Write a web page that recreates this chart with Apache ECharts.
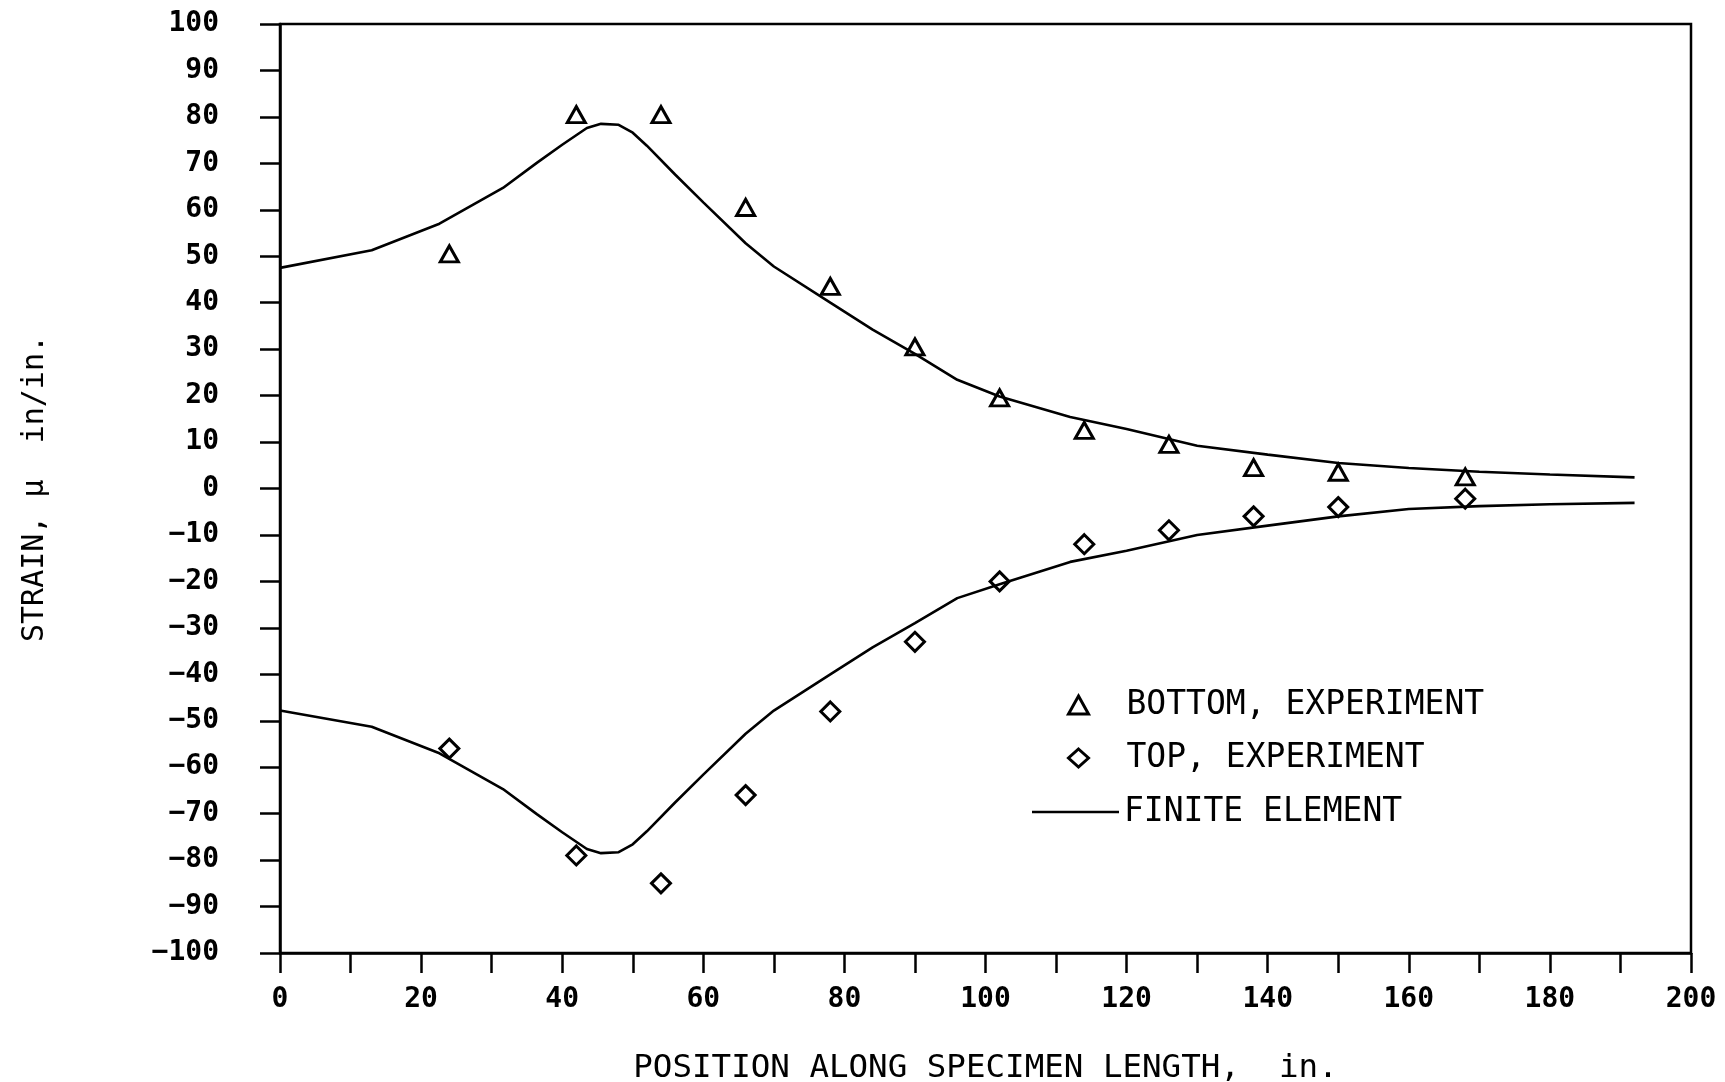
<!DOCTYPE html>
<html>
<head>
<meta charset="utf-8">
<script src="https://cdn.jsdelivr.net/npm/echarts@6/dist/echarts.min.js"></script>
<style>
html,body{margin:0;padding:0;background:#fff;}
#main{width:1725px;height:1082px;}
</style>
</head>
<body>
<div id="main"></div>
<script>
// Experimental gauge positions (in.)
var expPositions = [24, 42, 54, 66, 78, 90, 102, 114, 126, 138, 150, 168];
// Bottom gauges, experiment
var bottomExperiment = [50.5, 80.5, 80.5, 60.5, 43.5, 30.5, 19.5, 12.5, 9.5, 4.5, 3.5, 2.5];
// Top gauges, experiment
var topExperiment = [-56, -79, -85, -66, -48, -33, -20, -12, -9, -6, -4, -2.2];

// Finite element curve (bottom)
var feBottomX = [0, 13, 22.6, 31.6, 36.4, 40, 43.5, 45.5, 48, 50, 52, 56, 60, 66, 70, 78, 84, 90, 96, 102, 112, 120, 130, 140, 150, 160, 170, 180, 192];
var feBottomY = [47.5, 51.3, 57, 64.7, 70.1, 74, 77.6, 78.5, 78.3, 76.6, 73.8, 67.6, 61.6, 52.8, 47.8, 40, 34.2, 29, 23.4, 19.8, 15.4, 12.8, 9.2, 7.3, 5.5, 4.4, 3.6, 3.0, 2.4];
// Finite element curve (top)
var feTopX = [0, 13, 22.6, 31.6, 36.4, 40, 43.5, 45.5, 48, 50, 52, 56, 60, 66, 70, 78, 84, 90, 96, 102, 112, 120, 130, 140, 150, 160, 170, 180, 192];
var feTopY = [-47.8, -51.3, -57, -64.7, -70.1, -74, -77.6, -78.5, -78.3, -76.6, -73.8, -67.6, -61.6, -52.8, -47.8, -40, -34.2, -29, -23.6, -20.6, -15.8, -13.4, -10, -8, -6, -4.4, -3.8, -3.4, -3.1];

var xTicks = {min: 0, max: 200, interval: 20};
var yTicks = {min: -100, max: 100, interval: 10};

function zip(xs, ys){ return xs.map(function(x,i){ return [x, ys[i]]; }); }
function fmt(v){ return String(v).replace('-', '\u2212'); }

var FONT = '"DejaVu Sans Mono", monospace';
var chart = echarts.init(document.getElementById('main'), null, {renderer: 'canvas'});
var markerStyle = {color: '#ffffff', borderColor: '#000', borderWidth: 3, opacity: 1};

chart.setOption({
  backgroundColor: '#ffffff',
  animation: false,
  grid: {left: 280, right: 34, top: 24, bottom: 129, show: true, borderColor: '#000', borderWidth: 2.5, backgroundColor: 'transparent', containLabel: false, outerBoundsMode: 'none'},
  legend: [
    {
      orient: 'vertical',
      left: 1062,
      top: 682,
      itemWidth: 20,
      itemHeight: 18,
      itemGap: 17,
      selectedMode: false,
      symbolKeepAspect: true,
      itemStyle: {color: '#ffffff', borderColor: '#000', borderWidth: 3},
      textStyle: {fontFamily: FONT, fontSize: 33, color: '#000', lineHeight: 36, padding: [0, 0, 0, 33]},
      data: [
        {name: 'BOTTOM, EXPERIMENT', icon: 'triangle'},
        {name: 'TOP, EXPERIMENT', icon: 'diamond'}
      ]
    },
    {
      orient: 'vertical',
      left: 1027,
      top: 789,
      itemWidth: 87,
      itemHeight: 2.6,
      selectedMode: false,
      textStyle: {fontFamily: FONT, fontSize: 33, color: '#000', lineHeight: 36},
      data: [{name: 'FINITE ELEMENT', icon: 'rect', itemStyle: {color: '#000', borderWidth: 0}}]
    }
  ],
  xAxis: {
    type: 'value',
    min: xTicks.min, max: xTicks.max, interval: xTicks.interval,
    name: 'POSITION ALONG SPECIMEN LENGTH,  in.',
    nameLocation: 'middle',
    nameGap: 99,
    nameTextStyle: {fontFamily: FONT, fontSize: 32.5, color: '#000'},
    axisLine: {show: true, onZero: false, lineStyle: {color: '#000', width: 2.5}},
    axisTick: {show: true, inside: false, length: 20, lineStyle: {color: '#000', width: 2.5}},
    minorTick: {show: true, splitNumber: 2, length: 20, lineStyle: {color: '#000', width: 2.5}},
    axisLabel: {fontFamily: FONT, fontSize: 28, fontWeight: 'bold', color: '#000', margin: 33, formatter: fmt},
    splitLine: {show: false}
  },
  yAxis: {
    type: 'value',
    min: yTicks.min, max: yTicks.max, interval: yTicks.interval,
    name: 'STRAIN, μ  in/in.',
    nameLocation: 'middle',
    nameGap: 230,
    nameRotate: 90,
    nameTextStyle: {fontFamily: FONT, fontSize: 30, color: '#000'},
    axisLine: {show: true, onZero: false, lineStyle: {color: '#000', width: 2.5}},
    axisTick: {show: true, inside: false, length: 20, lineStyle: {color: '#000', width: 2.5}},
    axisLabel: {fontFamily: FONT, fontSize: 28, fontWeight: 'bold', color: '#000', margin: 61, formatter: fmt},
    splitLine: {show: false}
  },
  series: [
    {
      name: 'FINITE ELEMENT', type: 'line', data: zip(feBottomX, feBottomY),
      symbol: 'none', smooth: false, lineStyle: {color: '#000', width: 2.6}, itemStyle: {color: '#000'}
    },
    {
      name: 'FINITE ELEMENT', type: 'line', data: zip(feTopX, feTopY),
      symbol: 'none', smooth: false, lineStyle: {color: '#000', width: 2.6}, itemStyle: {color: '#000'}
    },
    {
      name: 'BOTTOM, EXPERIMENT', type: 'scatter', data: zip(expPositions, bottomExperiment),
      symbol: 'triangle', symbolSize: [18, 16], itemStyle: markerStyle
    },
    {
      name: 'TOP, EXPERIMENT', type: 'scatter', data: zip(expPositions, topExperiment),
      symbol: 'diamond', symbolSize: [19, 19], itemStyle: markerStyle
    }
  ]
});
</script>
</body>
</html>
